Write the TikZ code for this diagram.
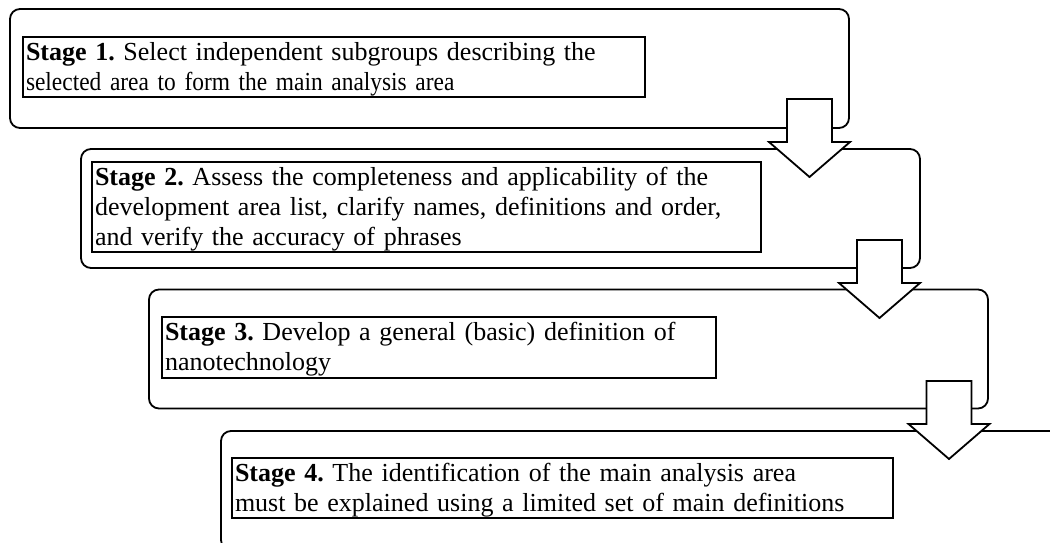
\documentclass[tikz,border=0pt]{standalone}
\usepackage{fontspec}
\setmainfont{Liberation Serif}
\newfontfamily\narrowserif[FakeStretch=0.9]{Liberation Serif}
\newcommand{\topstrut}{\rule{0pt}{23pt}}
\newcommand{\botstrut}{\rule[-7pt]{0pt}{7pt}}
\begin{document}
\frenchspacing
\begin{tikzpicture}[x=1pt,y=-1pt,
  outerbox/.style={draw, line width=1.8pt, rounded corners=10pt, minimum width=839pt, minimum height=119pt, inner sep=0pt},
  textbox/.style={draw, line width=1.7pt, inner xsep=3pt, inner ysep=0pt, align=left, font=\fontsize{26}{30}\selectfont},
  blockarrow/.pic={\filldraw[fill=white, line width=1.8pt, line join=miter]
     (-22.5,0) -- (22.5,0) -- (22.5,43) -- (40.5,43) -- (0,78) -- (-40.5,43) -- (-22.5,43) -- cycle;}]
\useasboundingbox (0,0) rectangle (1050,543);
\clip (0,0) rectangle (1050,543);
% outer rounded boxes
\node[outerbox] (s1) at (429.5,68.5) {};
\node[outerbox] (s2) at (500.5,208.5) {};
\node[outerbox] (s3) at (568.5,349) {};
\node[outerbox] (s4) at (640.5,490.5) {};
% text boxes
\node[textbox, text width=616pt, minimum height=60pt] (t1) at (334,67)
  {\topstrut\textbf{Stage 1.} Select independent subgroups describing the\\{\narrowserif selected area to form the main analysis area}\botstrut};
\node[textbox, text width=663pt, minimum height=90pt] (t2) at (426.5,207)
  {\topstrut\textbf{Stage 2.} Assess the completeness and applicability of the\\development area list, clarify names, definitions and order,\\and verify the accuracy of phrases\botstrut};
\node[textbox, text width=548pt, minimum height=61pt] (t3) at (439,347.5)
  {\topstrut\textbf{Stage 3.} Develop a general (basic) definition of\\nanotechnology\botstrut};
\node[textbox, text width=655pt, minimum height=60pt] (t4) at (562.5,488)
  {\topstrut\textbf{Stage 4.} The identification of the main analysis area\\must be explained using a limited set of main definitions\botstrut};
% block arrows between stages
\coordinate (a1) at (809.5,99);
\coordinate (a2) at (879.5,240);
\coordinate (a3) at (949,381);
\pic at (a1) {blockarrow};
\pic at (a2) {blockarrow};
\pic at (a3) {blockarrow};
\end{tikzpicture}
\end{document}
